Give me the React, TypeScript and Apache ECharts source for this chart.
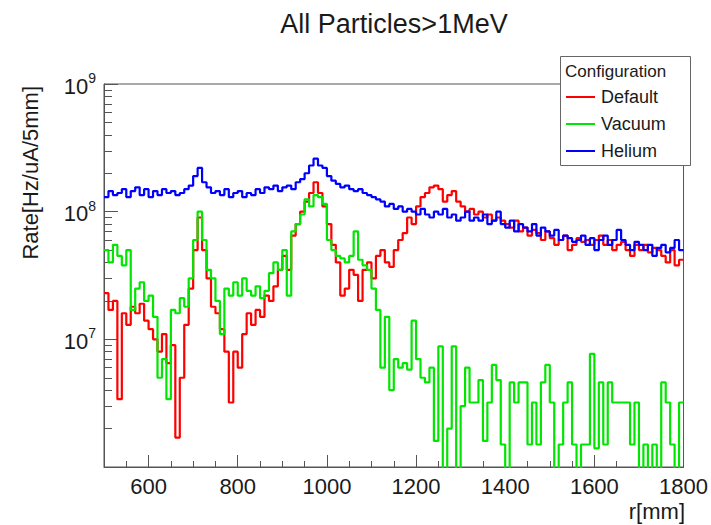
import React, { useEffect, useRef } from "react";
import * as echarts from "echarts";

const TITLE = "All Particles>1MeV";
const X_TITLE = "r[mm]";
const Y_TITLE = "Rate[Hz/uA/5mm]";
const LEGEND_TITLE = "Configuration";
const SERIES_NAMES = ["Default", "Vacuum", "Helium"];
const SERIES_COLORS = ["#ff0000", "#00e600", "#0000ff"];

const BIN_START = 500;
const BIN_WIDTH = 10;
const X_MIN = 500;
const X_MAX = 1800;
const Y_MIN = 1e6;
const Y_MAX = 1e9;
const X_LABELS = [600, 800, 1000, 1200, 1400, 1600, 1800];
const X_MINOR = [550, 650, 700, 750, 850, 900, 950, 1050, 1100, 1150, 1250, 1300, 1350, 1450, 1500, 1550, 1650, 1700, 1750];
const Y_MINOR_EXP = [
  6.30103, 6.47712, 6.60206, 6.69897, 6.77815, 6.84510, 6.90309, 6.95424,
  7.30103, 7.47712, 7.60206, 7.69897, 7.77815, 7.84510, 7.90309, 7.95424,
  8.30103, 8.47712, 8.60206, 8.69897, 8.77815, 8.84510, 8.90309, 8.95424,
];

// bin values, one per 10 mm bin starting at 500 mm
const DEFAULT_VALUES = [
  2.3e7, 1.7e7, 2.0e7, 3.4e6, 1.6e7, 1.3e7, 1.8e7, 1.6e7, 1.9e7, 1.4e7,
  1.2e7, 1.0e7, 8.0e6, 1.1e7, 6.5e6, 9.0e6, 1.7e6, 5.0e6, 1.3e7, 2.5e7,
  5.0e7, 9.0e7, 5.0e7, 3.0e7, 1.8e7, 1.6e7, 1.2e7, 8.0e6, 3.2e6, 8.0e6,
  6.0e6, 1.1e7, 1.6e7, 1.3e7, 1.7e7, 1.5e7, 2.2e7, 2.0e7, 2.6e7, 3.5e7,
  4.5e7, 3.5e7, 6.5e7, 8.0e7, 1.0e8, 1.2e8, 1.4e8, 1.7e8, 1.4e8, 1.1e8,
  8.0e7, 5.5e7, 4.0e7, 2.2e7, 2.5e7, 3.5e7, 3.2e7, 2.0e7, 3.5e7, 4.0e7,
  3.0e7, 4.5e7, 5.0e7, 4.0e7, 3.7e7, 5.0e7, 6.0e7, 6.8e7, 9.0e7, 8.0e7,
  1.1e8, 1.3e8, 1.4e8, 1.55e8, 1.6e8, 1.5e8, 1.2e8, 1.35e8, 1.45e8, 1.2e8,
  1.1e8, 1.0e8, 1.05e8, 9.5e7, 1.0e8, 9.0e7, 9.5e7, 8.5e7, 9.0e7, 8.5e7,
  8.0e7, 7.5e7, 8.5e7, 7.0e7, 7.5e7, 6.5e7, 7.2e7, 6.8e7, 6.0e7, 7.0e7,
  6.2e7, 5.5e7, 6.0e7, 6.5e7, 5.0e7, 5.5e7, 6.2e7, 5.8e7, 6.0e7, 5.5e7,
  6.0e7, 6.5e7, 5.5e7, 6.0e7, 5.0e7, 5.5e7, 5.8e7, 5.0e7, 4.5e7, 5.5e7,
  5.0e7, 5.5e7, 4.8e7, 5.2e7, 5.0e7, 4.5e7, 4.0e7, 5.0e7, 3.8e7, 4.2e7,
];

const VACUUM_VALUES = [
  5.0e7, 4.0e7, 5.5e7, 4.5e7, 3.8e7, 5.0e7, 1.7e7, 2.5e7, 2.8e7, 2.0e7,
  2.2e7, 1.5e7, 5.0e6, 7.0e6, 3.4e6, 1.7e7, 1.6e7, 2.1e7, 1.8e7, 3.0e7,
  6.0e7, 1.0e8, 6.0e7, 3.5e7, 3.0e7, 2.0e7, 1.1e7, 2.5e7, 2.2e7, 2.8e7,
  2.2e7, 3.0e7, 2.4e7, 2.2e7, 2.6e7, 2.1e7, 2.4e7, 3.3e7, 4.0e7, 3.5e7,
  5.0e7, 2.2e7, 7.0e7, 8.0e7, 9.5e7, 1.25e8, 1.1e8, 1.35e8, 1.3e8, 1.15e8,
  6.0e7, 5.0e7, 4.5e7, 4.3e7, 4.0e7, 4.5e7, 7.0e7, 4.2e7, 3.8e7, 3.5e7,
  2.5e7, 1.7e7, 6.0e6, 1.5e7, 4.0e6, 7.0e6, 6.0e6, 6.5e6, 5.8e6, 1.4e7,
  7.0e6, 5.0e6, 4.6e6, 6.0e6, 1.6e6, 8.8e6, 5.0e5, 2.0e6, 8.8e6, 5.0e5,
  3.0e6, 6.0e6, 3.2e6, 3.2e6, 4.8e6, 1.6e6, 3.2e6, 6.3e6, 4.8e6, 1.5e6,
  5.0e5, 4.6e6, 3.2e6, 4.6e6, 4.6e6, 1.5e6, 3.2e6, 1.5e6, 4.6e6, 6.3e6,
  3.2e6, 5.0e5, 1.5e6, 3.2e6, 4.6e6, 1.5e6, 5.0e5, 1.5e6, 1.5e6, 7.7e6,
  1.4e6, 4.6e6, 1.5e6, 4.6e6, 3.2e6, 3.2e6, 3.2e6, 3.2e6, 1.5e6, 3.2e6,
  5.0e5, 1.5e6, 5.0e5, 1.5e6, 5.0e5, 4.6e6, 3.2e6, 1.5e6, 5.0e5, 3.2e6,
];

const HELIUM_VALUES = [
  1.30e8, 1.45e8, 1.35e8, 1.40e8, 1.50e8, 1.30e8, 1.45e8, 1.55e8, 1.35e8, 1.50e8,
  1.30e8, 1.45e8, 1.35e8, 1.50e8, 1.40e8, 1.45e8, 1.35e8, 1.40e8, 1.50e8, 1.60e8,
  1.90e8, 2.20e8, 1.70e8, 1.55e8, 1.40e8, 1.45e8, 1.35e8, 1.50e8, 1.30e8, 1.40e8,
  1.45e8, 1.30e8, 1.40e8, 1.35e8, 1.50e8, 1.40e8, 1.55e8, 1.50e8, 1.60e8, 1.45e8,
  1.55e8, 1.60e8, 1.50e8, 1.70e8, 1.80e8, 2.00e8, 2.30e8, 2.60e8, 2.30e8, 2.20e8,
  1.90e8, 1.75e8, 1.65e8, 1.55e8, 1.60e8, 1.50e8, 1.45e8, 1.50e8, 1.40e8, 1.35e8,
  1.30e8, 1.25e8, 1.20e8, 1.10e8, 1.15e8, 1.05e8, 1.10e8, 1.00e8, 1.05e8, 1.00e8,
  0.95e8, 1.05e8, 0.95e8, 0.90e8, 1.00e8, 0.95e8, 1.05e8, 0.90e8, 0.95e8, 0.85e8,
  0.90e8, 1.00e8, 0.85e8, 0.90e8, 0.85e8, 0.95e8, 0.80e8, 0.85e8, 1.00e8, 0.80e8,
  0.75e8, 0.85e8, 0.70e8, 0.80e8, 0.75e8, 0.70e8, 0.80e8, 0.65e8, 0.75e8, 0.70e8,
  0.65e8, 0.72e8, 0.60e8, 0.65e8, 0.62e8, 0.58e8, 0.60e8, 0.65e8, 0.55e8, 0.62e8,
  0.50e8, 0.60e8, 0.65e8, 0.55e8, 0.60e8, 0.72e8, 0.60e8, 0.55e8, 0.50e8, 0.58e8,
  0.55e8, 0.50e8, 0.55e8, 0.45e8, 0.52e8, 0.55e8, 0.48e8, 0.52e8, 0.60e8, 0.50e8,
];

const FONT = "'Liberation Sans', Arial, Helvetica, sans-serif";
const TEXT_COLOR = "#1a1a1a";
const FRAME_COLOR = "#555";

function toSteps(values: number[]): [number, number][] {
  const pts: [number, number][] = values.map((v, i) => [BIN_START + i * BIN_WIDTH, v]);
  pts.push([BIN_START + values.length * BIN_WIDTH, values[values.length - 1]]);
  return pts;
}

export default function App() {
  const ref = useRef<HTMLDivElement>(null);
  useEffect(() => {
    if (!ref.current) return;
    const chart = echarts.init(ref.current, undefined, { renderer: "svg" });
    const allValues = [DEFAULT_VALUES, VACUUM_VALUES, HELIUM_VALUES];
    const legendRows = [97, 124, 151];
    const option: any = {
      animation: false,
      backgroundColor: "#fff",
      grid: {
        left: 104, right: 26, top: 84, bottom: 58,
        show: true, borderColor: FRAME_COLOR, borderWidth: 1, backgroundColor: "#fff",
      },
      xAxis: [
        {
          type: "value", min: X_MIN, max: X_MAX,
          axisLine: { show: true, lineStyle: { color: FRAME_COLOR, width: 1 } },
          axisTick: { show: true, inside: true, length: 12, customValues: X_LABELS, lineStyle: { color: FRAME_COLOR } },
          axisLabel: {
            customValues: X_LABELS, fontSize: 22, color: TEXT_COLOR, fontFamily: FONT, margin: 8,
            formatter: (v: number) => String(v),
          },
          splitLine: { show: false },
        },
        {
          type: "value", min: X_MIN, max: X_MAX, position: "bottom",
          axisLine: { show: false },
          axisTick: { show: true, inside: true, length: 6, customValues: X_MINOR, lineStyle: { color: FRAME_COLOR } },
          axisLabel: { show: false },
          splitLine: { show: false },
        },
      ],
      yAxis: [
        {
          type: "log", logBase: 10, min: Y_MIN, max: Y_MAX,
          axisLine: { show: true, lineStyle: { color: FRAME_COLOR, width: 1 } },
          axisTick: { show: true, inside: true, length: 14, lineStyle: { color: FRAME_COLOR } },
          axisLabel: {
            color: TEXT_COLOR, fontFamily: FONT, margin: 8,
            formatter: (v: number) => {
              const e = Math.round(Math.log10(v));
              if (e <= 6) return "";
              return `{b|10}{s|${e}}`;
            },
            rich: {
              b: { fontSize: 22, fontFamily: FONT, color: TEXT_COLOR, lineHeight: 26, verticalAlign: "bottom" },
              s: { fontSize: 14, fontFamily: FONT, color: TEXT_COLOR, lineHeight: 26, verticalAlign: "top" },
            },
          },
          splitLine: { show: false },
        },
        {
          type: "value", min: 6, max: 9, position: "left",
          axisLine: { show: false },
          axisTick: { show: true, inside: true, length: 8, customValues: Y_MINOR_EXP, lineStyle: { color: FRAME_COLOR } },
          axisLabel: { show: false },
          splitLine: { show: false },
        },
      ],
      series: SERIES_NAMES.map((name, i) => ({
        name,
        type: "line",
        step: "end",
        xAxisIndex: 0,
        yAxisIndex: 0,
        showSymbol: false,
        symbol: "none",
        clip: true,
        lineStyle: { color: SERIES_COLORS[i], width: 2.2 },
        itemStyle: { color: SERIES_COLORS[i] },
        data: toSteps(allValues[i]),
        z: 2 + i,
      })),
      graphic: [
        {
          type: "text", x: 394, y: 24, z: 10,
          style: { text: TITLE, fontSize: 27, fontFamily: FONT, fill: TEXT_COLOR, align: "center", verticalAlign: "middle" },
        },
        {
          type: "text", x: 685, y: 511, z: 10,
          style: { text: X_TITLE, fontSize: 22, fontFamily: FONT, fill: TEXT_COLOR, align: "right", verticalAlign: "middle" },
        },
        {
          type: "text", x: 30, y: 86, rotation: Math.PI / 2, z: 10,
          style: { text: Y_TITLE, fontSize: 22, fontFamily: FONT, fill: TEXT_COLOR, align: "right", verticalAlign: "middle" },
        },
        {
          type: "rect", z: 20,
          shape: { x: 560.5, y: 56.5, width: 130, height: 109 },
          style: { fill: "#fff", stroke: "#666", lineWidth: 1 },
        },
        {
          type: "text", x: 565, y: 71, z: 21,
          style: { text: LEGEND_TITLE, fontSize: 17, fontFamily: FONT, fill: TEXT_COLOR, align: "left", verticalAlign: "middle" },
        },
        ...SERIES_NAMES.flatMap((name, i) => [
          {
            type: "line", z: 21,
            shape: { x1: 566, y1: legendRows[i], x2: 595, y2: legendRows[i] },
            style: { stroke: SERIES_COLORS[i], lineWidth: 2 },
          },
          {
            type: "text", x: 601, y: legendRows[i], z: 21,
            style: { text: name, fontSize: 18, fontFamily: FONT, fill: TEXT_COLOR, align: "left", verticalAlign: "middle" },
          },
        ]),
      ],
    };
    chart.setOption(option);
    return () => chart.dispose();
  }, []);
  return <div ref={ref} style={{ width: 711, height: 525, position: "absolute", left: 0, top: 0 }} />;
}
